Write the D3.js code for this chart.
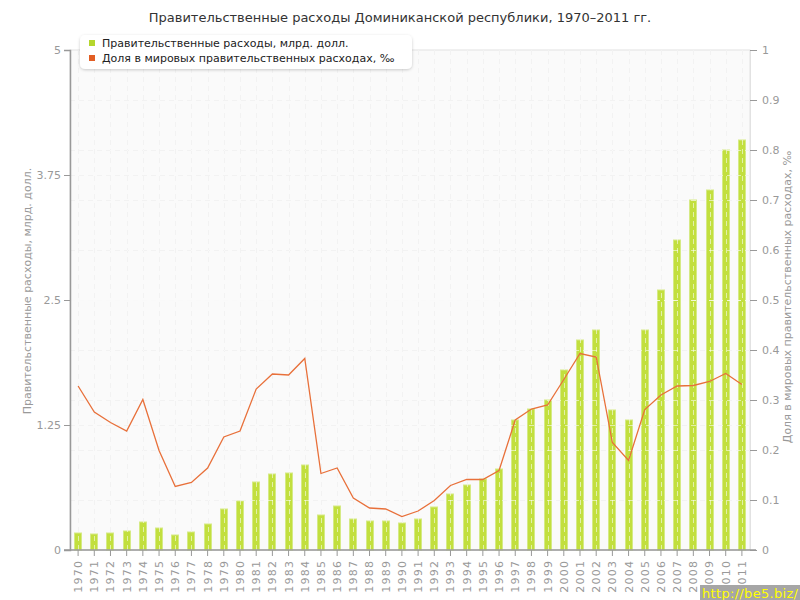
<!DOCTYPE html>
<html><head><meta charset="utf-8">
<script src="https://cdn.jsdelivr.net/npm/d3@7"></script>
<style>
body{margin:0;background:#fff;}
svg{display:block;font-family:"DejaVu Sans",Verdana,sans-serif;}
</style></head>
<body>
<svg id="chart" width="800" height="600"></svg>
<script>
const years = ["1970","1971","1972","1973","1974","1975","1976","1977","1978","1979","1980","1981","1982","1983","1984","1985","1986","1987","1988","1989","1990","1991","1992","1993","1994","1995","1996","1997","1998","1999","2000","2001","2002","2003","2004","2005","2006","2007","2008","2009","2010","2011"];
const spending = [0.17,0.16,0.17,0.19,0.28,0.22,0.15,0.18,0.26,0.41,0.49,0.68,0.76,0.77,0.85,0.35,0.44,0.31,0.29,0.29,0.27,0.31,0.43,0.56,0.65,0.71,0.81,1.30,1.41,1.50,1.80,2.10,2.20,1.40,1.30,2.20,2.60,3.10,3.50,3.60,4.00,4.10];
const share = [0.328,0.276,0.255,0.238,0.301,0.199,0.127,0.135,0.164,0.226,0.238,0.322,0.352,0.350,0.383,0.153,0.164,0.104,0.084,0.082,0.067,0.078,0.099,0.129,0.141,0.141,0.159,0.260,0.282,0.290,0.341,0.393,0.386,0.215,0.179,0.281,0.310,0.328,0.329,0.337,0.353,0.331];
const leftTicks = [0,1.25,2.5,3.75,5];
const rightTicks = [0,0.1,0.2,0.3,0.4,0.5,0.6,0.7,0.8,0.9,1];
const leftTickLabels = ["0","1.25","2.5","3.75","5"];
const rightTickLabels = ["0","0.1","0.2","0.3","0.4","0.5","0.6","0.7","0.8","0.9","1"];
const title = "Правительственные расходы Доминиканской республики, 1970–2011 гг.";
const legendLabels = ["Правительственные расходы, млрд. долл.","Доля в мировых правительственных расходах, ‰"];
const leftTitle = "Правительственные расходы, млрд. долл.";
const rightTitle = "Доля в мировых правительственных расходах, ‰";

const svg = d3.select("#chart");
const L = 70, R = 750, T = 50, B = 550;
const x = d3.scaleBand().domain(years).range([L, R]);
const yL = d3.scaleLinear().domain([0,5]).range([B, T]);
const yR = d3.scaleLinear().domain([0,1]).range([B, T]);
const gray = "#999";

// title
svg.append("text").attr("x",400).attr("y",22).attr("text-anchor","middle")
  .attr("font-size",13).attr("fill","#333").text(title);

// plot background
svg.append("rect").attr("x",L).attr("y",T).attr("width",R-L).attr("height",B-T)
  .attr("fill","#fafafa").attr("stroke","#e2e2e2");

const cx = d => x(d) + x.bandwidth()/2;
function grid(color){
  const g = svg.append("g").attr("stroke",color).attr("stroke-dasharray","5,4").attr("fill","none");
  g.selectAll("line.h").data(rightTicks.slice(1,-1).concat(leftTicks.slice(1,-1).map(v=>v/5)))
    .join("line").attr("x1",L).attr("x2",R).attr("y1",d=>yR(d)+0.5).attr("y2",d=>yR(d)+0.5);
  g.selectAll("line.v").data(years).join("line")
    .attr("x1",d=>Math.round(cx(d))+0.5).attr("x2",d=>Math.round(cx(d))+0.5).attr("y1",T).attr("y2",B);
}
grid("#e2e2e2");

// bars
const bw = 8;
svg.append("g").selectAll("rect").data(years).join("rect")
  .attr("x",(d)=>Math.round(cx(d))-bw/2+0.5)
  .attr("y",(d,i)=>yL(spending[i]))
  .attr("width",bw-1)
  .attr("height",(d,i)=>B - yL(spending[i]))
  .attr("fill","#c2df3e").attr("stroke","#d5ea85").attr("stroke-width",1);

grid("rgba(255,255,255,0.55)");

// line
svg.append("path").datum(share)
  .attr("fill","none").attr("stroke","#e8703a").attr("stroke-width",1.3)
  .attr("d", d3.line().x((d,i)=>cx(years[i])).y(d=>yR(d)));

// left axis
const la = svg.append("g").attr("transform",`translate(${L},0)`)
  .call(d3.axisLeft(yL).tickValues(leftTicks).tickFormat((d,i)=>leftTickLabels[i]).tickSize(6).tickPadding(3));
la.select(".domain").attr("stroke",gray).attr("stroke-width",1.5);
la.selectAll(".tick line").attr("stroke",gray);
la.selectAll("text").attr("fill",gray).attr("font-size",11).attr("font-family","DejaVu Sans");

// right axis
const ra = svg.append("g").attr("transform",`translate(${R},0)`)
  .call(d3.axisRight(yR).tickValues(rightTicks).tickFormat((d,i)=>rightTickLabels[i]).tickSize(7).tickPadding(5));
ra.select(".domain").attr("stroke","#e2e2e2");
ra.selectAll(".tick line").attr("stroke",gray);
ra.selectAll("text").attr("fill",gray).attr("font-size",11).attr("font-family","DejaVu Sans");

// bottom axis
const ba = svg.append("g").attr("transform",`translate(0,${B})`)
  .call(d3.axisBottom(x).tickSize(6).tickPadding(4));
ba.select(".domain").attr("stroke",gray).attr("stroke-width",1.5).attr("d",`M${L-6},0H${R+6}`);
ba.selectAll(".tick line").attr("stroke",gray);
ba.selectAll("text").attr("fill",gray).attr("font-size",11).attr("font-family","DejaVu Sans")
  .attr("transform","rotate(-90)").attr("text-anchor","end").attr("dx","-0.9em").attr("dy","-0.55em")
  .attr("letter-spacing","1.2");

// axis titles
svg.append("text").attr("transform","translate(31,291) rotate(-90)").attr("text-anchor","middle")
  .attr("font-size",11).attr("fill",gray).text(leftTitle);
svg.append("text").attr("transform","translate(791,297) rotate(-90)").attr("text-anchor","middle")
  .attr("font-size",11).attr("fill",gray).text(rightTitle);

// legend
const lg = svg.append("g");
const defs = svg.append("defs");
const f = defs.append("filter").attr("id","sh").attr("x","-10%").attr("y","-30%").attr("width","120%").attr("height","160%");
f.append("feDropShadow").attr("dx",0).attr("dy",1).attr("stdDeviation",1.5).attr("flood-color","#000").attr("flood-opacity",0.2);
lg.append("rect").attr("x",80).attr("y",35).attr("width",332).attr("height",34).attr("rx",5)
  .attr("fill","#fff").attr("filter","url(#sh)");
const lcol = ["#b5d62d","#e25e24"];
legendLabels.forEach((t,i)=>{
  lg.append("rect").attr("x",89).attr("y",40+i*15).attr("width",6).attr("height",6).attr("fill",lcol[i]);
  lg.append("text").attr("x",102).attr("y",47+i*15).attr("font-size",11).attr("fill","#222").text(t);
});

// watermark
svg.append("rect").attr("x",700).attr("y",585).attr("width",100).attr("height",15).attr("fill","#a6a6a6");
svg.append("text").attr("x",702).attr("y",598).attr("font-size",13)
  .attr("fill","#ffff00").attr("textLength",96).text("http://be5.biz/");
</script>
</body></html>
